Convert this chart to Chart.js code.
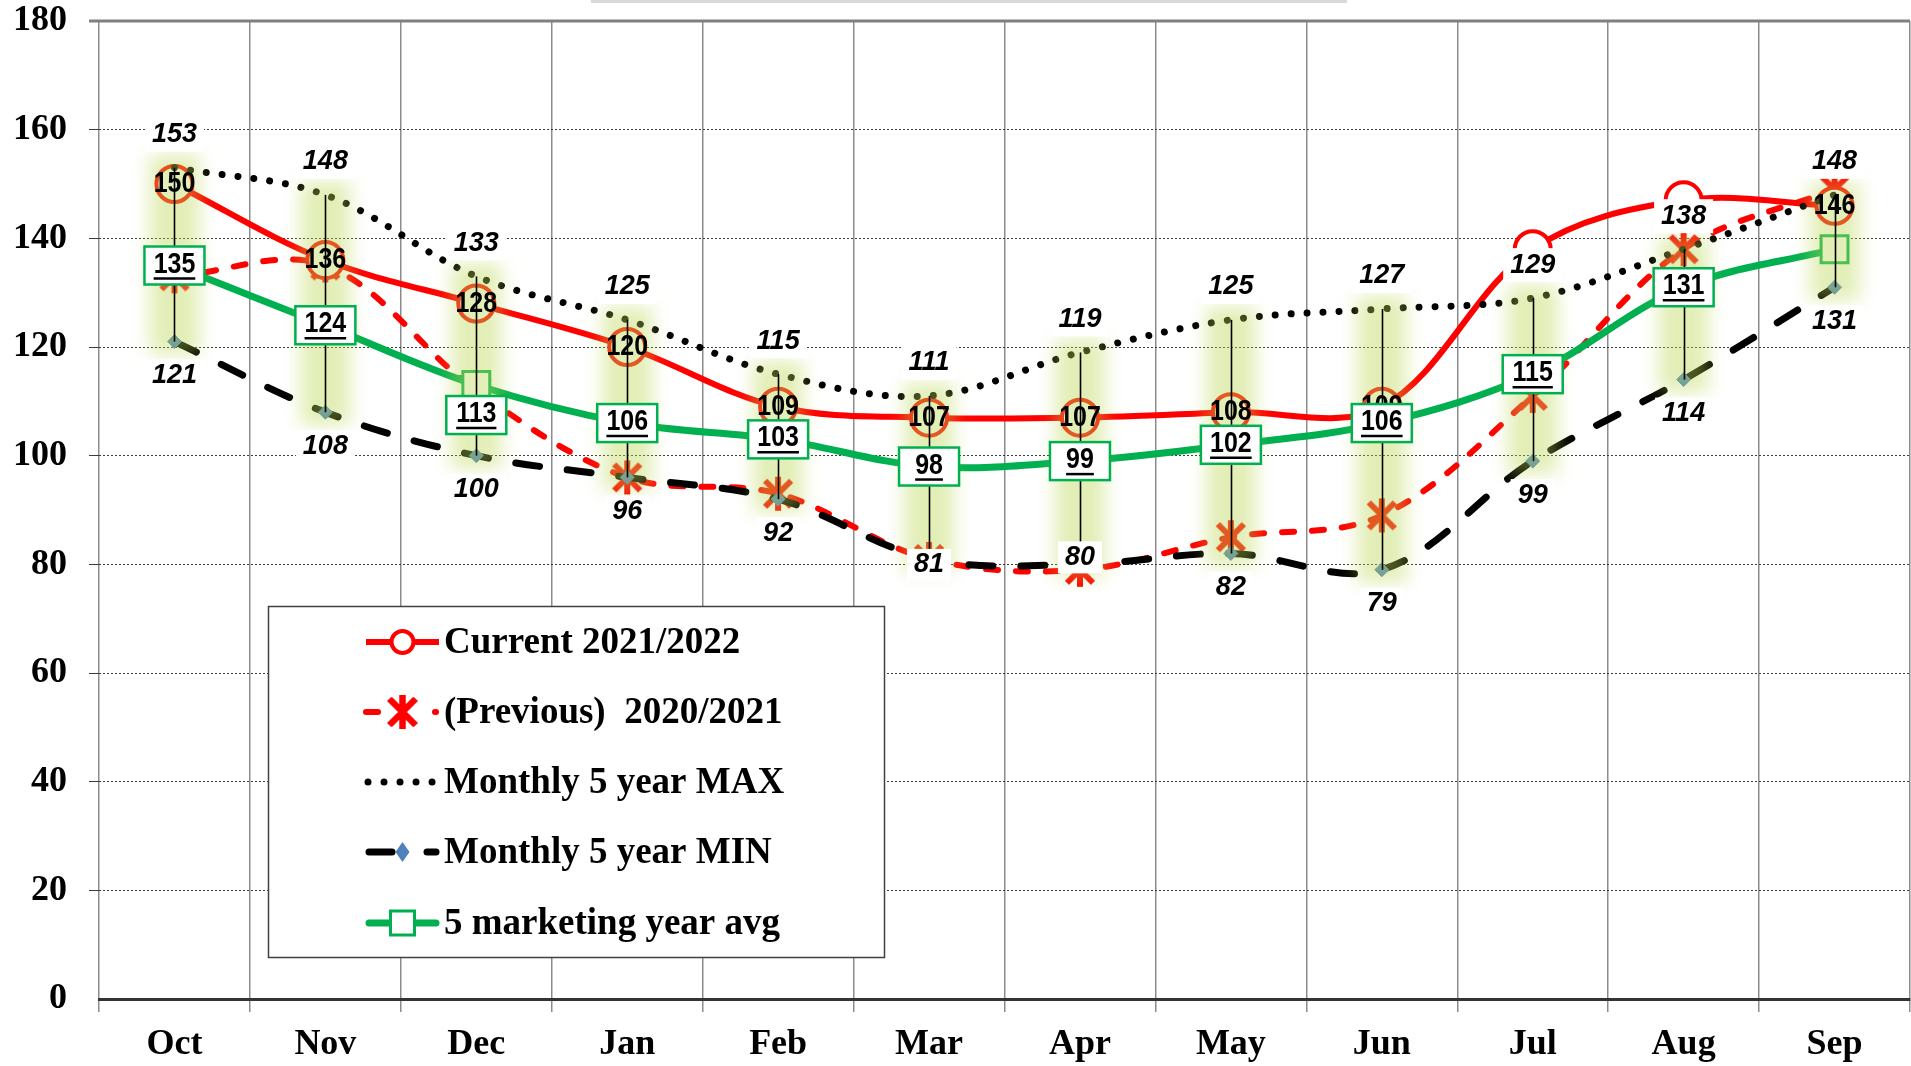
<!DOCTYPE html>
<html><head><meta charset="utf-8">
<script src="https://cdn.jsdelivr.net/npm/chart.js@4.4.0/dist/chart.umd.min.js"></script>
<style>html,body{margin:0;padding:0;background:#fff;overflow:hidden}canvas{display:block}</style>
</head><body>
<canvas id="c" width="1911" height="1066"></canvas>
<script>
// ---------- data ----------
const months = ['Oct','Nov','Dec','Jan','Feb','Mar','Apr','May','Jun','Jul','Aug','Sep'];
const current2122 = [150,136,128,120,109,107,107,108,109,138,147,146];
const previous2021 = [133,135,112,96,93,81,79,85,89,111,138,149];
const max5yr = [153,148,133,125,115,111,119,125,127,129,138,148];
const min5yr = [121,108,100,96,92,81,80,82,79,99,114,131];
const avg5yr = [135,124,113,106,103,98,99,102,106,115,131,138];
const yMin = 0, yMax = 180, yStep = 20;
const seriesNames = ['Current 2021/2022','(Previous)  2020/2021','Monthly 5 year MAX','Monthly 5 year MIN','5 marketing year avg'];

// ---------- label placement (style, not data) ----------
const currentLabelHidden = [9,10];
const avgLabelHidden = [11];
const avgLabelDy = [0,0,30,0,0,0,0,0,0,0,0,0];
const minLabelDy = [34,34,34,34,34,6,-7,34,34,34,34,34];
const maxLabelDy = -33;

function makeStar(color){
  const c = document.createElement('canvas'); c.width = 40; c.height = 40;
  const g = c.getContext('2d'); g.strokeStyle = color; g.lineWidth = 6; g.lineCap = 'butt';
  g.beginPath();
  g.moveTo(20-13,20-13); g.lineTo(20+13,20+13);
  g.moveTo(20+13,20-13); g.lineTo(20-13,20+13);
  g.moveTo(20,3); g.lineTo(20,37);
  g.stroke();
  return c;
}
const starImg = makeStar('#ff0000');

function txt(ctx, s, x, y, font, sx){
  ctx.save(); ctx.translate(x,y); ctx.scale(sx,1);
  ctx.font = font; ctx.textAlign='center'; ctx.textBaseline='middle'; ctx.fillStyle='#000';
  ctx.fillText(s,0,0); ctx.restore();
}
function boxedText(ctx, s, x, y, font, sx, padX, h){
  ctx.save(); ctx.font = font;
  const w = ctx.measureText(s).width*sx + padX*2;
  ctx.fillStyle='#fff'; ctx.fillRect(x-w/2, y-h/2, w, h);
  ctx.restore();
  txt(ctx, s, x, y, font, sx);
}

const decor = {
  id:'decor',
  beforeDatasetsDraw(chart){
    const {ctx, chartArea:a, scales:{y}} = chart;
    ctx.save();
    ctx.strokeStyle='#808080'; ctx.lineWidth=3;
    const yt = y.getPixelForValue(yMax);
    ctx.beginPath(); ctx.moveTo(a.left-10, yt); ctx.lineTo(a.right, yt); ctx.stroke();
    ctx.restore();
  },
  afterDatasetsDraw(chart){
    const {ctx, scales:{x,y}} = chart;
    ctx.save();
    ctx.filter = 'blur(9px)';
    ctx.fillStyle = 'rgba(187,215,80,0.42)';
    months.forEach((m,i)=>{
      const px = x.getPixelForValue(i);
      const yt = y.getPixelForValue(max5yr[i]) - 13;
      const yb = y.getPixelForValue(min5yr[i]) + 13;
      ctx.fillRect(px-25, yt, 50, yb-yt);
    });
    ctx.filter = 'none';
    ctx.strokeStyle='#000'; ctx.lineWidth=1.6;
    months.forEach((m,i)=>{
      const px = Math.round(x.getPixelForValue(i))+0.5;
      ctx.beginPath(); ctx.moveTo(px, y.getPixelForValue(max5yr[i])); ctx.lineTo(px, y.getPixelForValue(min5yr[i])); ctx.stroke();
    });
    ctx.restore();
    const fCur = 'bold 29px "Liberation Sans"';
    current2122.forEach((v,i)=>{
      if (currentLabelHidden.includes(i)) return;
      txt(ctx, String(v), x.getPixelForValue(i), y.getPixelForValue(v), fCur, 0.86);
    });
    const fIt = 'italic bold 27px "Liberation Sans"';
    min5yr.forEach((v,i)=>{
      boxedText(ctx, String(v), x.getPixelForValue(i), y.getPixelForValue(v)+minLabelDy[i], fIt, 1, 7, 32);
    });
    max5yr.forEach((v,i)=>{
      boxedText(ctx, String(v), x.getPixelForValue(i), y.getPixelForValue(v)+maxLabelDy, fIt, 1, 7, 34);
    });
    avg5yr.forEach((v,i)=>{
      if (avgLabelHidden.includes(i)) return;
      const px = x.getPixelForValue(i), py = y.getPixelForValue(v) + avgLabelDy[i];
      const w = 60, h = 38;
      ctx.save();
      ctx.fillStyle='#fff'; ctx.fillRect(px-w/2, py-h/2, w, h);
      ctx.strokeStyle='#00b050'; ctx.lineWidth=2.5; ctx.strokeRect(px-w/2, py-h/2, w, h);
      ctx.font = fCur;
      const tw = ctx.measureText(String(v)).width*0.86;
      ctx.strokeStyle='#000'; ctx.lineWidth=2.5;
      ctx.beginPath(); ctx.moveTo(px-tw/2, py+13); ctx.lineTo(px+tw/2, py+13); ctx.stroke();
      ctx.restore();
      txt(ctx, String(v), px, py-1, fCur, 0.86);
    });
  },
  afterDraw(chart){
    const {ctx} = chart;
    ctx.save();
    ctx.fillStyle='#d9d9d9'; ctx.fillRect(591,0,756,3);
    const L = {x:268, y:606, w:616, h:351};
    ctx.fillStyle='#fff'; ctx.fillRect(L.x,L.y,L.w,L.h);
    ctx.strokeStyle='#404040'; ctx.lineWidth=1.5; ctx.strokeRect(L.x+0.5,L.y+0.5,L.w,L.h);
    const x0 = 366, x1 = 439, xm = 402.5, tx = 444;
    const rows = [642, 712, 782, 852, 923];
    let ry = rows[0];
    ctx.strokeStyle='#ff0000'; ctx.lineWidth=6; ctx.lineCap='butt';
    ctx.beginPath(); ctx.moveTo(x0,ry); ctx.lineTo(x1,ry); ctx.stroke();
    ctx.fillStyle='#fff'; ctx.lineWidth=4;
    ctx.beginPath(); ctx.arc(xm,ry,11,0,Math.PI*2); ctx.fill(); ctx.stroke();
    ry = rows[1];
    ctx.lineWidth=6; ctx.lineCap='round';
    ctx.beginPath(); ctx.moveTo(x0,ry); ctx.lineTo(x0+12,ry); ctx.stroke();
    ctx.beginPath(); ctx.moveTo(x1-4,ry); ctx.lineTo(x1-3,ry); ctx.stroke();
    ctx.drawImage(starImg, xm-20, ry-20);
    ctx.drawImage(starImg, xm-20, ry-20);
    ry = rows[2];
    ctx.strokeStyle='#000'; ctx.lineWidth=7; ctx.lineCap='round'; ctx.setLineDash([0.01,16]);
    ctx.beginPath(); ctx.moveTo(x0+2,ry); ctx.lineTo(x1,ry); ctx.stroke();
    ctx.setLineDash([]);
    ry = rows[3];
    ctx.lineWidth=7; ctx.lineCap='round';
    ctx.beginPath(); ctx.moveTo(x0+3,ry); ctx.lineTo(x0+26,ry); ctx.stroke();
    ctx.beginPath(); ctx.moveTo(x1-12,ry); ctx.lineTo(x1-3,ry); ctx.stroke();
    ctx.fillStyle='#4f81bd';
    ctx.beginPath(); ctx.moveTo(xm,ry-10); ctx.lineTo(xm+7,ry); ctx.lineTo(xm,ry+10); ctx.lineTo(xm-7,ry); ctx.closePath(); ctx.fill();
    ry = rows[4];
    ctx.strokeStyle='#00b050'; ctx.lineWidth=7; ctx.lineCap='round';
    ctx.beginPath(); ctx.moveTo(x0+3,ry); ctx.lineTo(x1-3,ry); ctx.stroke();
    ctx.fillStyle='#fff'; ctx.lineWidth=3; ctx.lineCap='butt';
    ctx.fillRect(xm-12,ry-12,24,24); ctx.strokeRect(xm-12,ry-12,24,24);
    ctx.fillStyle='#000'; ctx.font='bold 37px "Liberation Serif"'; ctx.textAlign='left'; ctx.textBaseline='middle';
    seriesNames.forEach((s,i)=>{ ctx.fillText(s, tx, rows[i]+1); });
    ctx.restore();
  }
};

new Chart(document.getElementById('c'), {
  type:'line',
  data:{
    labels: months,
    datasets:[
      {label:seriesNames[0], data:current2122, borderColor:'#ff0000', borderWidth:6, tension:0.35,
       pointStyle:'circle', pointRadius:18, pointBorderWidth:4, pointBorderColor:'#ff0000', pointBackgroundColor:'#ffffff', order:4},
      {label:seriesNames[1], data:previous2021, borderColor:'#ff0000', borderWidth:6, borderDash:[12,18], borderCapStyle:'round', tension:0.35,
       pointStyle:starImg, pointRadius:18, order:5},
      {label:seriesNames[2], data:max5yr, borderColor:'#000000', borderWidth:7, borderDash:[0.01,16], borderCapStyle:'round', tension:0.35,
       pointRadius:0, order:3},
      {label:seriesNames[3], data:min5yr, borderColor:'#000000', borderWidth:7, borderDash:[24,28], borderCapStyle:'round', tension:0.35,
       pointStyle:'rectRot', pointRadius:7, pointBackgroundColor:'#4f81bd', pointBorderColor:'#4f81bd', pointBorderWidth:1, order:2},
      {label:seriesNames[4], data:avg5yr, borderColor:'#00b050', borderWidth:7, tension:0.35,
       pointStyle:'rect', pointRadius:19, pointBorderWidth:3, pointBorderColor:'#00b050', pointBackgroundColor:'#ffffff', order:1}
    ]
  },
  options:{
    responsive:false, animation:false, devicePixelRatio:1,
    layout:{autoPadding:false, padding:{top:21, right:1, left:0, bottom:0}},
    plugins:{legend:{display:false}, tooltip:{enabled:false}},
    scales:{
      x:{
        offset:true,
        grid:{color:'#8c8c8c', lineWidth:1.5, offset:true, tickLength:13},
        border:{color:'#333333', width:3},
        ticks:{font:{family:'"Liberation Serif"', weight:'bold', size:36, lineHeight:1}, color:'#000', padding:15, maxRotation:0, autoSkip:false},
        afterFit(s){ s.height = 67; s.paddingLeft = 0; s.paddingRight = 0; }
      },
      y:{
        min:yMin, max:yMax,
        ticks:{stepSize:yStep, font:{family:'"Liberation Serif"', weight:'bold', size:36, lineHeight:1}, color:'#000', padding:22},
        grid:{color:(c)=> (c.tick && c.tick.value===yMin) ? 'rgba(0,0,0,0)' : '#3c3c3c', lineWidth:1, tickLength:10, borderDash:[2,2]},
        border:{display:false, dash:[2,2]},
        afterFit(s){ s.width = 99; s.paddingTop = 0; s.paddingBottom = 0; }
      }
    }
  },
  plugins:[decor]
});
</script>
</body></html>
